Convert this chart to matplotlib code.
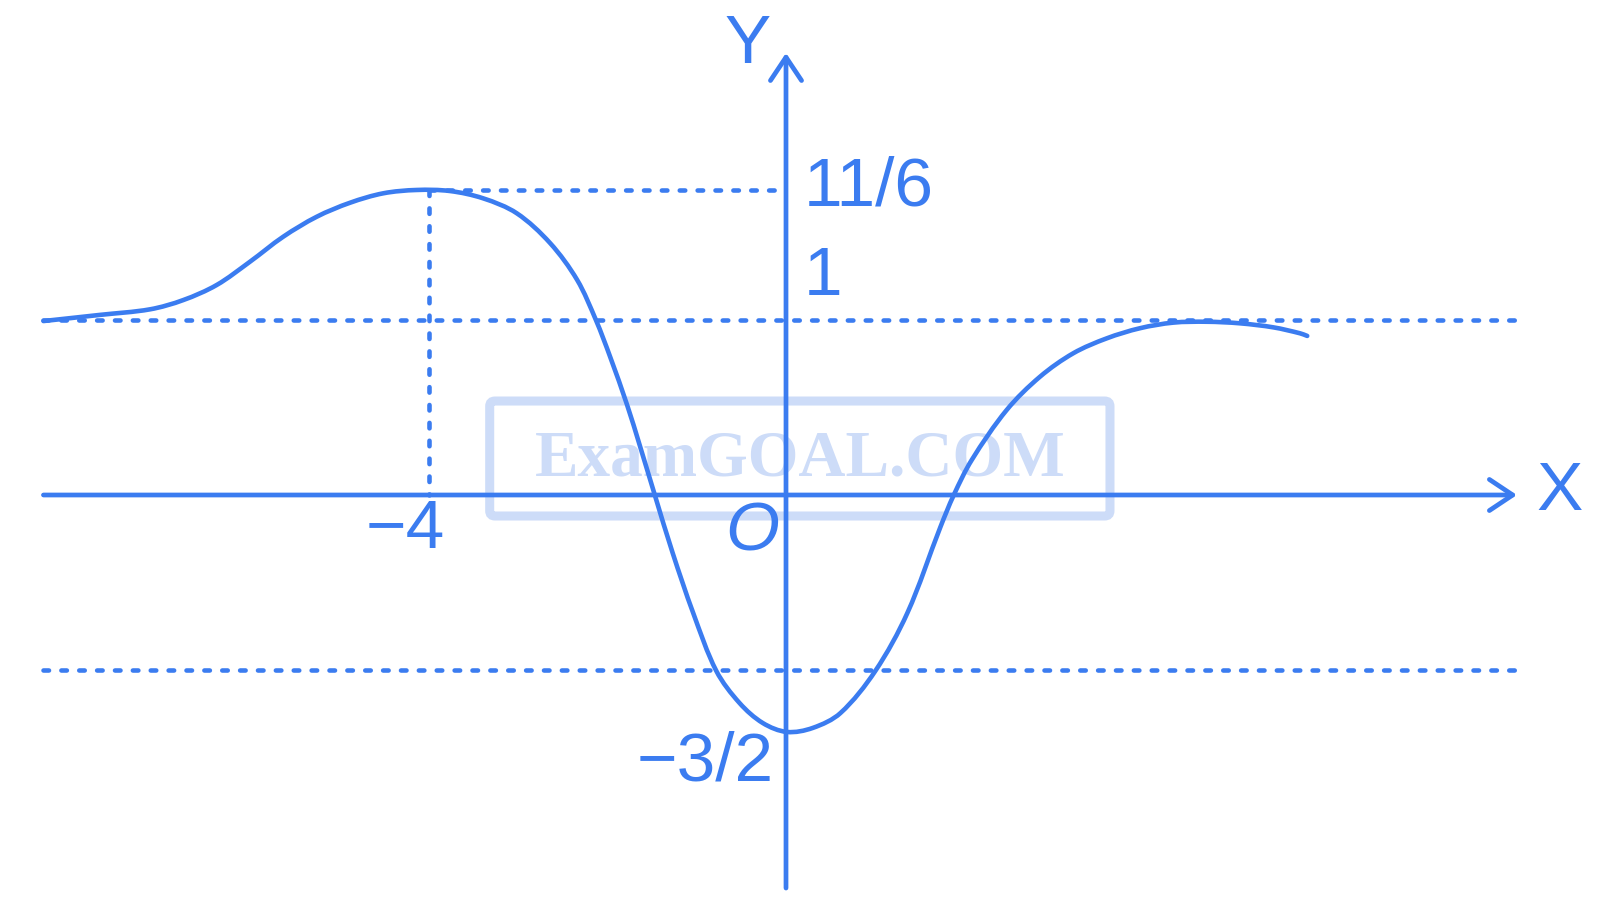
import matplotlib
matplotlib.use("Agg")
import matplotlib.pyplot as plt
import numpy as np
from matplotlib.patches import FancyBboxPatch, PathPatch
from matplotlib.path import Path

# curve (x in units of the -4 mark, y in units of the "1" line)
curve_x = [-8.32, -7.69, -7.126, -6.753, -6.379, -6.006, -5.633, -5.258, -4.885, -4.512,
           -4.138, -3.765, -3.392, -3.017, -2.644, -2.34, -2.13, -1.97, -1.78, -1.64,
           -1.47, -1.27, -1.04, -0.78, -0.52, -0.26, 0.01, 0.30, 0.61, 1.00,
           1.36, 1.73, 1.88, 2.081, 2.473, 2.846, 3.219, 3.593, 3.966, 4.340,
           4.714, 5.087, 5.460, 5.759, 5.84]
curve_y = [0.994, 1.029, 1.061, 1.114, 1.200, 1.333, 1.476, 1.590, 1.670, 1.724,
           1.743, 1.737, 1.695, 1.610, 1.440, 1.229, 1.0, 0.789, 0.514, 0.286,
           0.0, -0.331, -0.674, -1.006, -1.189, -1.303, -1.354, -1.331, -1.246, -1.006,
           -0.674, -0.183, 0.0, 0.200, 0.486, 0.676, 0.810, 0.895, 0.953, 0.985,
           0.990, 0.981, 0.958, 0.924, 0.909]

x_min, x_max = -8.32, 8.19      # x axis extent
y_bot, y_top = -2.246, 2.526    # y axis extent
dot_right = 8.17
h_levels = [1.0, -1.0]           # asymptote / dotted guides
peak_x, peak_y = -4.0, 1.743

# tick labels: (text, x, y, ha)
labels = [
    ("11/6", 0.20, 1.76, "left"),
    ("1", 0.20, 1.246, "left"),
    ("\u22124", -4.27, -0.20, "center"),
    ("\u22123/2", -0.14, -1.53, "right"),
]

BLUE = "#3b7cf0"
WM = "#cddcf8"
SX, SY = 89.25, 175.0   # pixels per unit

fig = plt.figure(figsize=(16, 9.19), dpi=100)
ax = fig.add_axes([0, 0, 1, 1])
ax.set_xlim(-786 / SX, (1600 - 786) / SX)
ax.set_ylim(-(919 - 495) / SY, 495 / SY)
ax.axis("off")

# watermark
box = FancyBboxPatch((-3.32, -0.12), 6.95, 0.657,
                     boxstyle="round,pad=0,rounding_size=0.06",
                     fc="none", ec=WM, lw=6.5, zorder=1, mutation_aspect=0.5)
ax.add_patch(box)
ax.text(0.16, 0.2, "ExamGOAL.COM", color=WM, fontsize=47,
        family="Liberation Serif", weight="bold", ha="center", va="center", zorder=1)

dot = dict(color=BLUE, lw=3.3, dashes=(1.2, 2.7), dash_capstyle="round", zorder=2)
for lv in h_levels:
    ax.plot([x_min, dot_right], [lv, lv], **dot)
ax.plot([peak_x, -0.07], [peak_y, peak_y], **dot)
ax.plot([peak_x, peak_x], [peak_y, 0], **dot)

# axes with open arrow heads
ap = dict(arrowstyle="->,head_length=1.2,head_width=0.8", color=BLUE, lw=3.4,
          shrinkA=0, shrinkB=0, mutation_scale=14)
ax.annotate("", xy=(x_max, 0), xytext=(x_min, 0), arrowprops=ap, zorder=3)
ax.annotate("", xy=(0, y_top), xytext=(0, y_bot), arrowprops=ap, zorder=3)

# smooth the sketch: chord-length cubic hermite -> bezier segments (in pixel space)
P = np.column_stack([curve_x, curve_y]) * [SX, SY]
t = np.concatenate([[0], np.cumsum(np.linalg.norm(np.diff(P, axis=0), axis=1))])
m = np.zeros_like(P)
m[1:-1] = (P[2:] - P[:-2]) / (t[2:] - t[:-2])[:, None]
m[0] = (P[1] - P[0]) / (t[1] - t[0])
m[-1] = (P[-1] - P[-2]) / (t[-1] - t[-2])
verts = [P[0]]
codes = [Path.MOVETO]
for i in range(len(P) - 1):
    h = t[i + 1] - t[i]
    verts += [P[i] + m[i] * h / 3, P[i + 1] - m[i + 1] * h / 3, P[i + 1]]
    codes += [Path.CURVE4] * 3
verts = np.array(verts) / [SX, SY]
ax.add_patch(PathPatch(Path(verts, codes), fc="none", ec=BLUE, lw=3.3,
                       capstyle="round", joinstyle="round", zorder=4))

for txt, x, y, ha in labels:
    ax.text(x, y, txt, color=BLUE, fontsize=50, family="Liberation Sans",
            ha=ha, va="center")
ax.text(-0.38, -0.217, "O", color=BLUE, fontsize=50, family="Liberation Sans",
        style="italic", ha="center", va="center")
ax.text(-0.43, 2.57, "Y", color=BLUE, fontsize=50, family="Liberation Sans",
        ha="center", va="center")
ax.text(8.67, 0.017, "X", color=BLUE, fontsize=50, family="Liberation Sans",
        ha="center", va="center")

fig.savefig("out.png", dpi=100)
